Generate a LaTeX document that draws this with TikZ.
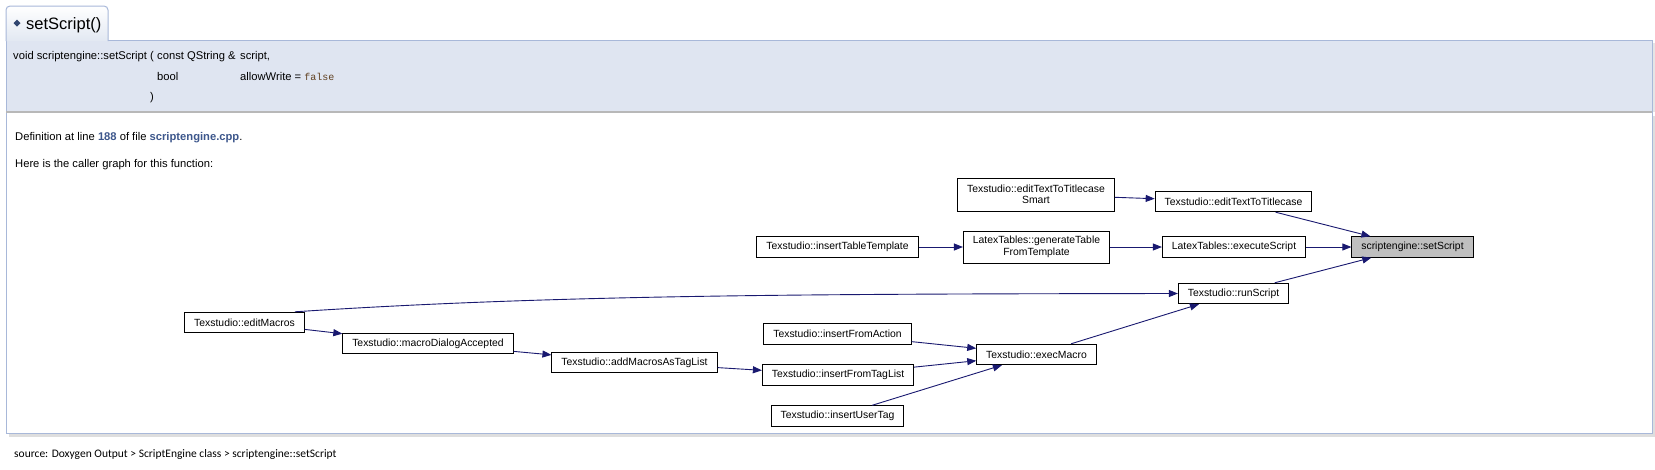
\documentclass[tikz,border=0pt]{standalone}
\usepackage{fontspec}
\usepackage{xcolor}
\usepackage{tikz}
\usetikzlibrary{arrows.meta,positioning}
\setmainfont{Liberation Sans}
\setmonofont{Liberation Mono}
\newfontfamily\footfont{Carlito}
\definecolor{edgeblue}{HTML}{191970}
\definecolor{linkblue}{HTML}{3D578C}
\definecolor{memline}{HTML}{A8B8D9}
\definecolor{protofill}{HTML}{DFE5F1}
\definecolor{tabfill}{HTML}{E2E8F2}
\definecolor{rootgray}{HTML}{BFBFBF}
\definecolor{kwbrown}{HTML}{604020}

\begin{document}
\begin{tikzpicture}[
  x=1pt, y=-1pt,
  fn/.style={draw=black, line width=0.9pt, fill=white, align=center, font=\fontsize{10.4}{11.5}\selectfont, inner xsep=9.5pt, inner ysep=1.5pt, minimum height=20.5pt},
  root/.style={fn, fill=rootgray},
  call/.style={-{Triangle[length=9pt,width=7pt]}, line width=0.9pt, draw=edgeblue},
  txt/.style={anchor=base west, inner sep=0pt, font=\fontsize{11.2}{13}\selectfont}
]
\useasboundingbox (0,0) rectangle (1655,469);
\fill[white] (0,0) rectangle (1655,469);

% frame
\fill[black!13] (9,116) rectangle (1655,437);
\filldraw[fill=white, draw=memline, line width=1pt] (6,112) rectangle (1652,433);
\fill[black!10] (1652,43) rectangle (1655,112);
\fill[protofill] (6,40) rectangle (1652,112);
\draw[memline, line width=1pt] (6,112) -- (6,40) (108,40) -- (1652,40) -- (1652,112);
\draw[black!28, line width=2pt] (6,112) -- (1652,112);
\shade[top color=white, bottom color=tabfill] (6,41) [rounded corners=4pt]-- (6,6) -- (108,6) [sharp corners]-- (108,41) -- cycle;
\draw[memline, line width=1pt] (6,41) [rounded corners=4pt]-- (6,6) -- (108,6) [sharp corners]-- (108,41);
\fill[linkblue!80!black] (17,19.5) -- (20.5,23) -- (17,26.5) -- (13.5,23) -- cycle;

% texts
\node[txt, font=\fontsize{16.5}{18}\selectfont] (title) at (26,29) {setScript()};
\node[txt] (sig) at (13,59) {void scriptengine::setScript};
\node[txt] (lpar) at (150,59) {(};
\node[txt] (arg1) at (157,59) {const QString \&};
\node[txt] (arg1n) at (240,59) {script,};
\node[txt] (arg2) at (157,80) {bool};
\node[txt] (arg2n) at (240,80) {allowWrite = {\color{kwbrown}\fontsize{10}{12}\ttfamily false}};
\node[txt] (rpar) at (150,100) {)};
\node[txt] (defn) at (15,140) {Definition at line {\color{linkblue}\bfseries 188} of file {\color{linkblue}\bfseries scriptengine.cpp}.};
\node[txt] (here) at (15,167) {Here is the caller graph for this function:};
\node[txt, font=\fontsize{11.5}{13}\footfont] (src) at (14,457) {source: Doxygen Output > ScriptEngine class > scriptengine::setScript};

% caller graph
\node[root] (ses) at (1412.5,247) {scriptengine::setScript};
\node[fn] (ttc) at (1233.5,201.5) {Texstudio::editTextToTitlecase};
\node[fn] (exs) at (1234,247) {LatexTables::executeScript};
\node[fn] (rs) at (1233.5,293.5) {Texstudio::runScript};
\node[fn, minimum height=33pt] (tts) at (1036,194.5) {Texstudio::editTextToTitlecase\\Smart};
\node[fn, minimum height=32pt] (gtt) at (1036.5,247) {LatexTables::generateTable\\FromTemplate};
\node[fn] (exm) at (1036.5,354.5) {Texstudio::execMacro};
\node[fn] (itt) at (837.5,247) {Texstudio::insertTableTemplate};
\node[fn] (ifa) at (837.5,334) {Texstudio::insertFromAction};
\node[fn] (ift) at (838,375) {Texstudio::insertFromTagList};
\node[fn] (iut) at (837.5,416) {Texstudio::insertUserTag};
\node[fn] (amt) at (634.5,362.5) {Texstudio::addMacrosAsTagList};
\node[fn] (mda) at (428,343.5) {Texstudio::macroDialogAccepted};
\node[fn] (em) at (244.5,322.5) {Texstudio::editMacros};

\draw[call] (tts) -- (ttc);
\draw[call] (ttc) -- (ses);
\draw[call] (itt) -- (gtt);
\draw[call] (gtt) -- (exs);
\draw[call] (exs) -- (ses);
\draw[call] (rs) -- (ses);
\draw[call] (em.12) .. controls (550,295) and (800,294) .. (rs.west);
\draw[call] (em) -- (mda);
\draw[call] (mda) -- (amt);
\draw[call] (amt) -- (ift);
\draw[call] (ifa) -- (exm);
\draw[call] (ift) -- (exm);
\draw[call] (iut) -- (exm);
\draw[call] (exm) -- (rs);
\end{tikzpicture}
\end{document}
